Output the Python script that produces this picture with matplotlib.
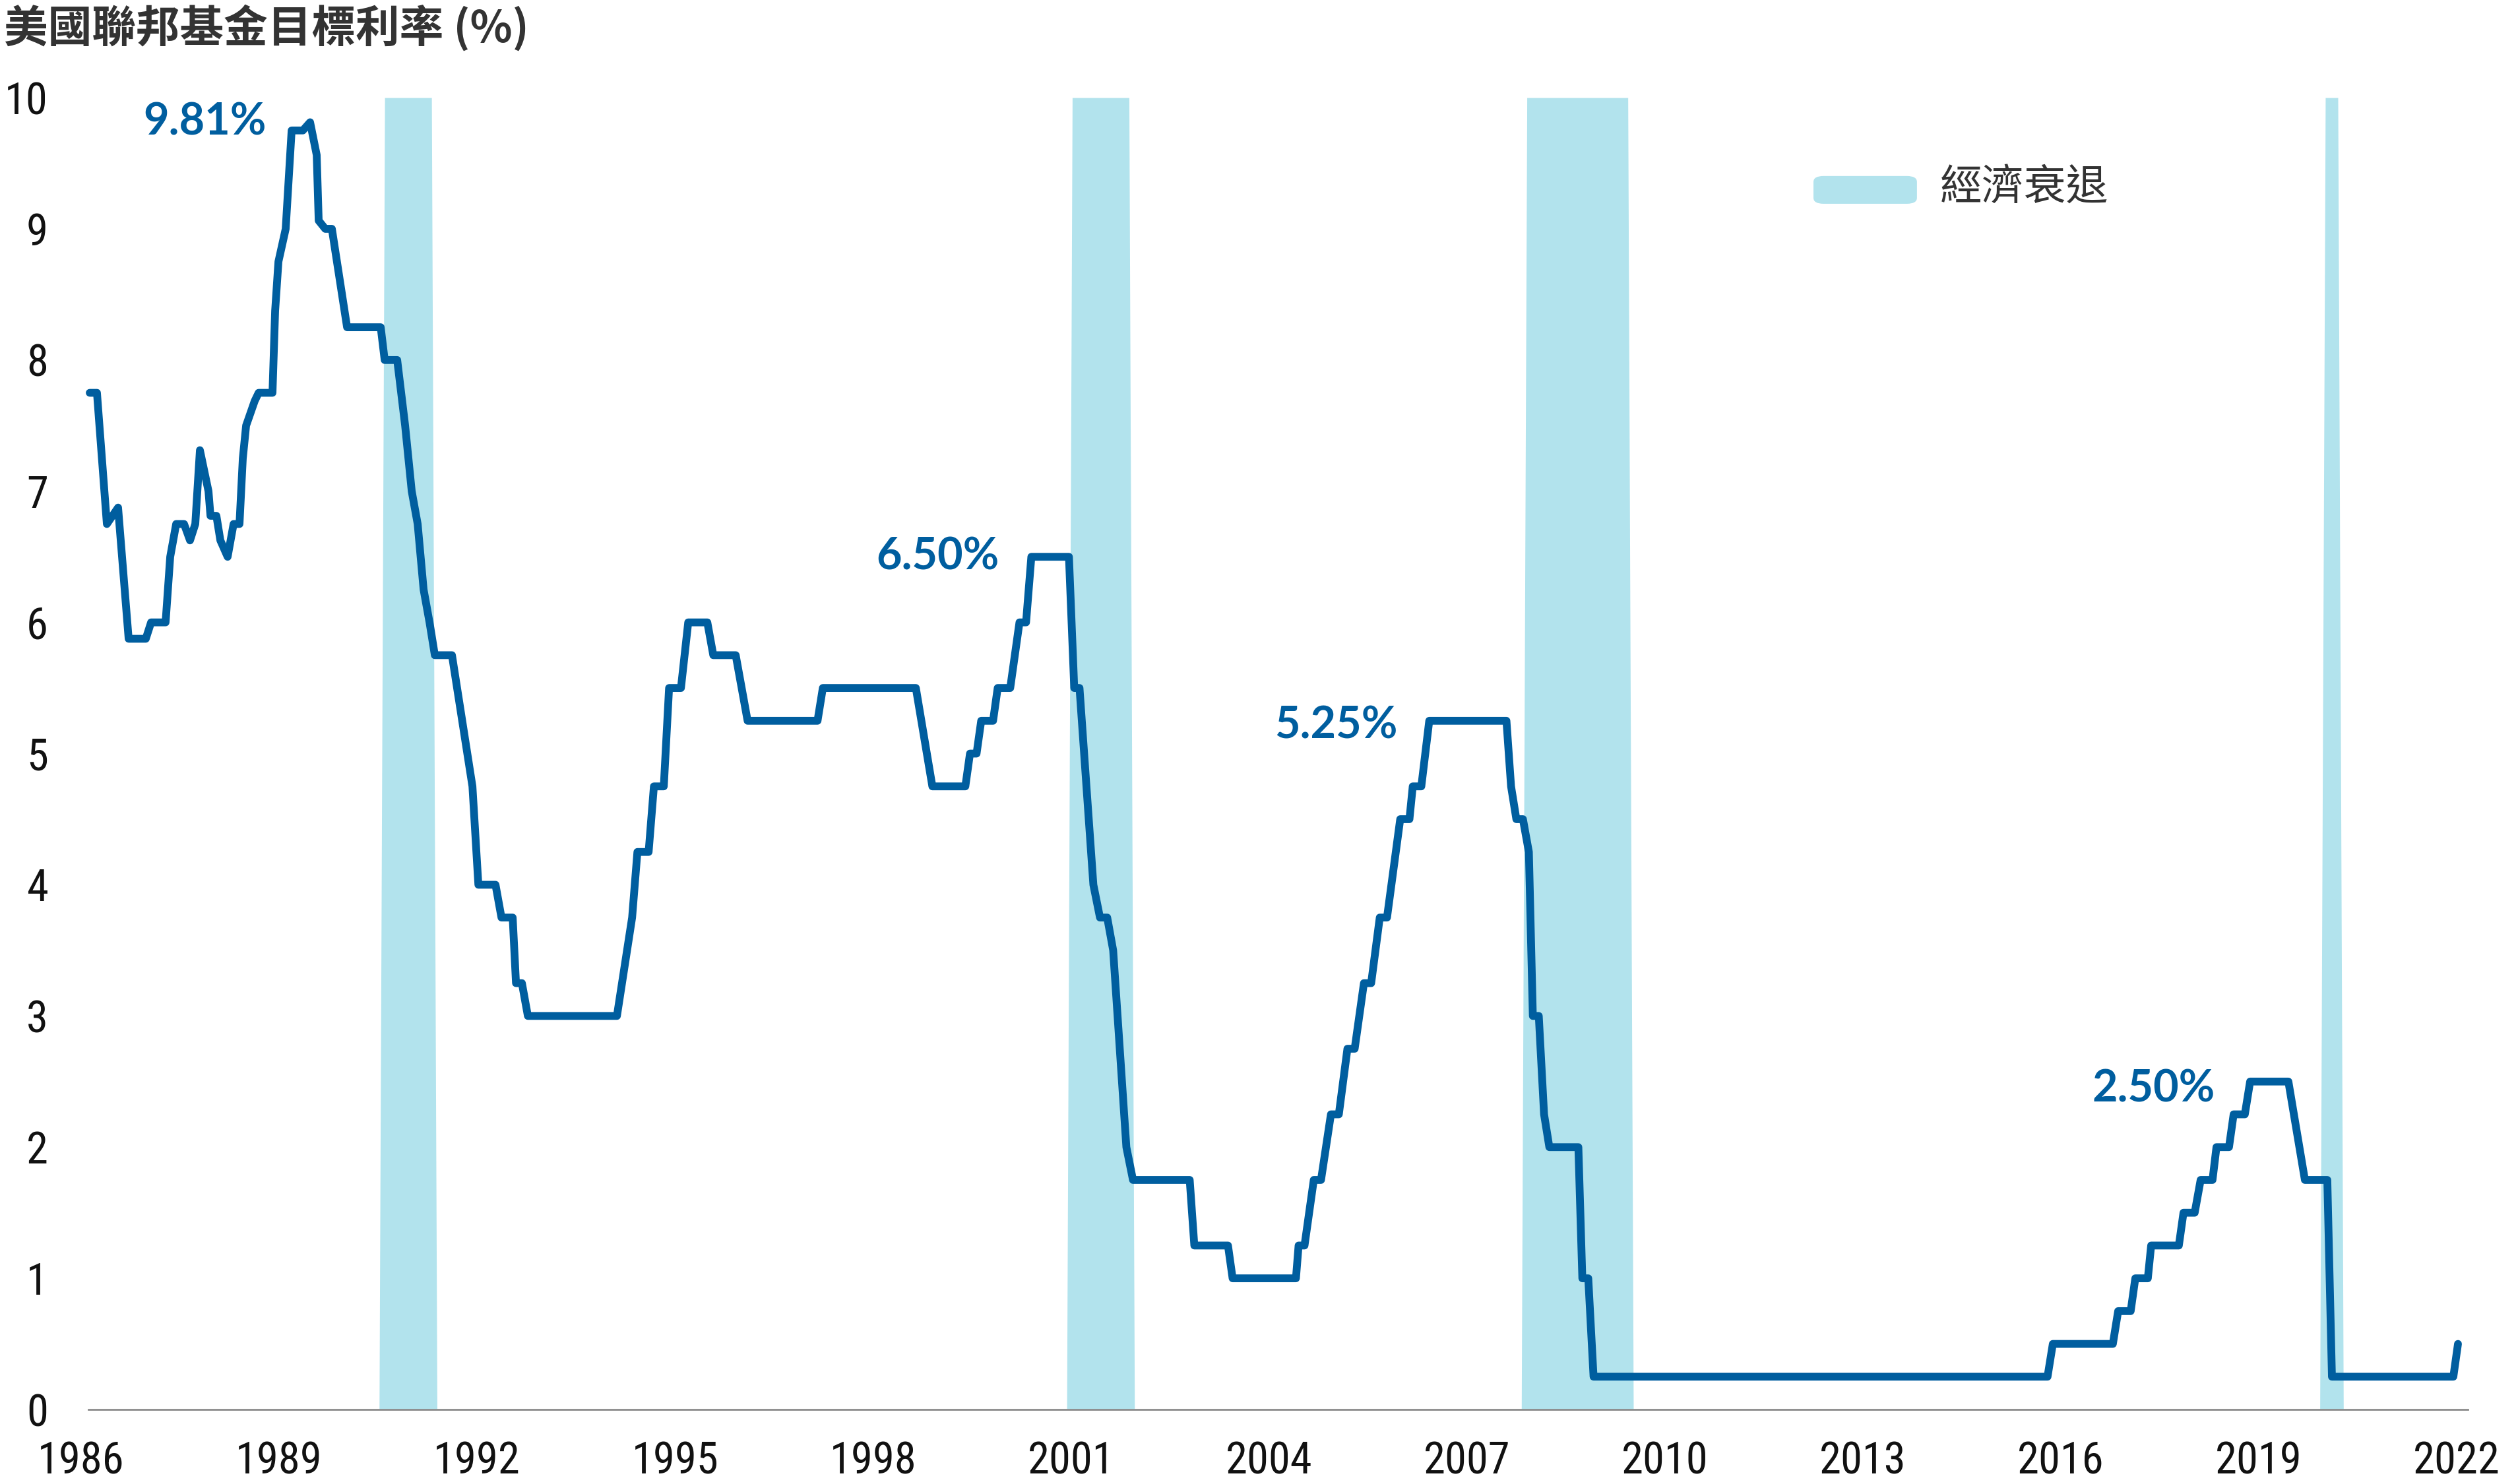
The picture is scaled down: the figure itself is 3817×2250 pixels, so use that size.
import matplotlib
matplotlib.use("Agg")
import matplotlib.pyplot as plt
from matplotlib import font_manager
from matplotlib.patches import FancyBboxPatch

# fed funds target rate (decimal year, %)
years = [
    1986.13, 1986.24, 1986.39, 1986.56, 1986.72, 1986.98, 1987.06, 1987.28,
    1987.35, 1987.44, 1987.56, 1987.65, 1987.73, 1987.80, 1987.93, 1987.96,
    1988.05, 1988.11, 1988.22, 1988.31, 1988.40, 1988.45, 1988.50, 1988.63,
    1988.69, 1988.90, 1988.94, 1988.99, 1989.10, 1989.19, 1989.36, 1989.47,
    1989.57, 1989.60, 1989.70, 1989.80, 1990.03, 1990.54, 1990.60, 1990.79,
    1990.91, 1991.01, 1991.10, 1991.19, 1991.28, 1991.36, 1991.62, 1991.93,
    1992.02, 1992.28, 1992.37, 1992.54, 1992.59, 1992.68, 1992.77, 1994.12,
    1994.35, 1994.43, 1994.60, 1994.68, 1994.83, 1994.91, 1995.09, 1995.20,
    1995.49, 1995.58, 1995.92, 1996.10, 1997.16, 1997.24, 1998.65, 1998.90,
    1999.40, 1999.47, 1999.57, 1999.64, 1999.82, 1999.89, 2000.08, 2000.22,
    2000.32, 2000.40, 2000.97, 2001.05, 2001.13, 2001.34, 2001.44, 2001.55,
    2001.64, 2001.84, 2001.94, 2002.80, 2002.87, 2003.38, 2003.45, 2004.41,
    2004.45, 2004.54, 2004.68, 2004.79, 2004.94, 2005.06, 2005.19, 2005.30,
    2005.44, 2005.55, 2005.68, 2005.79, 2005.99, 2006.13, 2006.18, 2006.31,
    2006.43, 2007.60, 2007.67, 2007.75, 2007.85, 2007.94, 2008.00, 2008.09,
    2008.17, 2008.25, 2008.69, 2008.75, 2008.84, 2008.92, 2015.80, 2015.88,
    2016.79, 2016.87, 2017.06, 2017.13, 2017.32, 2017.37, 2017.79, 2017.86,
    2018.03, 2018.12, 2018.30, 2018.36, 2018.55, 2018.62, 2018.79, 2018.87,
    2019.45, 2019.70, 2020.04, 2020.11, 2021.95, 2022.02,
]
rates = [
    7.75, 7.75, 6.75, 6.875, 5.875, 5.875, 6.0, 6.0,
    6.5, 6.75, 6.75, 6.625, 6.75, 7.3125, 7.0, 6.8125,
    6.8125, 6.625, 6.5, 6.75, 6.75, 7.25, 7.5, 7.6875,
    7.75, 7.75, 8.375, 8.75, 9.0, 9.75, 9.75, 9.8125,
    9.5625, 9.0625, 9.0, 9.0, 8.25, 8.25, 8.0, 8.0,
    7.5, 7.0, 6.75, 6.25, 6.0, 5.75, 5.75, 4.75,
    4.0, 4.0, 3.75, 3.75, 3.25, 3.25, 3.0, 3.0,
    3.75, 4.25, 4.25, 4.75, 4.75, 5.5, 5.5, 6.0,
    6.0, 5.75, 5.75, 5.25, 5.25, 5.5, 5.5, 4.75,
    4.75, 5.0, 5.0, 5.25, 5.25, 5.5, 5.5, 6.0,
    6.0, 6.5, 6.5, 5.5, 5.5, 4.0, 3.75, 3.75,
    3.5, 2.0, 1.75, 1.75, 1.25, 1.25, 1.0, 1.0,
    1.25, 1.25, 1.75, 1.75, 2.25, 2.25, 2.75, 2.75,
    3.25, 3.25, 3.75, 3.75, 4.5, 4.5, 4.75, 4.75,
    5.25, 5.25, 4.75, 4.5, 4.5, 4.25, 3.0, 3.0,
    2.25, 2.0, 2.0, 1.0, 1.0, 0.25, 0.25, 0.5,
    0.5, 0.75, 0.75, 1.0, 1.0, 1.25, 1.25, 1.5,
    1.5, 1.75, 1.75, 2.0, 2.0, 2.25, 2.25, 2.5,
    2.5, 1.75, 1.75, 0.25, 0.25, 0.5,
]

# recessions (full-height part of each band)
recession_start = [1990.60, 2001.02, 2007.91, 2020.01]
recession_end = [1991.31, 2001.88, 2009.44, 2020.20]
recession_top = 10

peak_labels = ["9.81%", "6.50%", "5.25%", "2.50%"]
peak_label_x = [1987.87, 1998.98, 2005.02, 2017.41]
peak_label_y = [9.81, 6.50, 5.21, 2.44]

x_ticks = list(range(1986, 2023, 3))
y_ticks = list(range(0, 11))

title = "美國聯邦基金目標利率 (%)"
legend_label = "經濟衰退"

line_color = "#005e9f"
band_color = "#b2e3ed"
text_color = "#333333"


def pick_font(names, default):
    have = {f.name for f in font_manager.fontManager.ttflist}
    for n in names:
        if n in have:
            return n
    return default


tick_font = pick_font(["Liberation Sans Narrow", "Roboto Condensed"], "Liberation Sans")
label_font = pick_font(["Lato", "Open Sans"], "DejaVu Sans")
cjk = ["Noto Sans CJK TC", "DejaVu Sans"]

fig = plt.figure(figsize=(38.17, 22.5), dpi=100)
ax = fig.add_axes([0.0296, 0.0502, 0.9539, 0.8840])

ramp = 1 / 12
for s, e in zip(recession_start, recession_end):
    ax.fill_between([s - ramp, s, e, e + ramp], [0, recession_top, recession_top, 0],
                    color=band_color, linewidth=0, zorder=1)

ax.plot(years, rates, color=line_color, lw=8.5, solid_joinstyle="round",
        solid_capstyle="round", zorder=3)

for txt, lx, ly in zip(peak_labels, peak_label_x, peak_label_y):
    ax.text(lx, ly, txt, color=line_color, fontsize=48, fontweight="bold",
            family=label_font, ha="center", va="center", zorder=4)

ax.set_xlim(1985.9, 2022.3)
ax.set_ylim(0, 10)
ax.set_xticks(x_ticks)
ax.set_xticklabels([str(t) for t in x_ticks])
ax.set_yticks(y_ticks)
ax.set_yticklabels([str(t) for t in y_ticks])
ax.tick_params(axis="both", length=0, labelsize=48, labelcolor="#111111")
ax.tick_params(axis="x", pad=34)
ax.tick_params(axis="y", pad=29)
for lab in ax.get_xticklabels() + ax.get_yticklabels():
    lab.set_family(tick_font)

for side in ["top", "right", "left"]:
    ax.spines[side].set_visible(False)
ax.spines["bottom"].set_color("#8c8c8c")
ax.spines["bottom"].set_linewidth(2)
ax.spines["bottom"].set_bounds(1986.11, 2022.17)

fig.text(0.0016, 0.997, title, family=cjk, fontsize=48, fontweight="bold",
         color=text_color, ha="left", va="top")

# legend
fig.patches.append(FancyBboxPatch((0.7202, 0.8627), 0.0411, 0.0187,
                                  boxstyle="round,pad=0,rounding_size=0.004",
                                  transform=fig.transFigure, color=band_color,
                                  linewidth=0))
fig.text(0.7705, 0.8733, legend_label, family=cjk, fontsize=46,
         color=text_color, ha="left", va="center")

fig.savefig("out.png", dpi=100)
